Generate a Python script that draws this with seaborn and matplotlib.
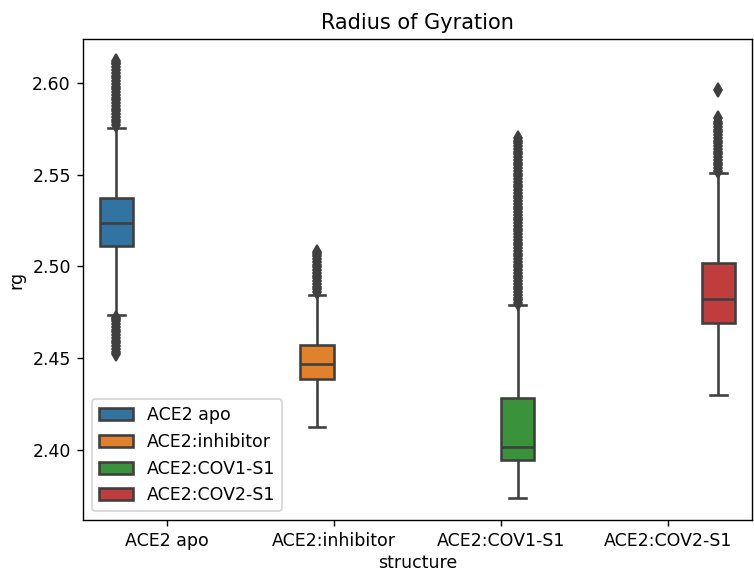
import pandas as pd
import numpy as np
import seaborn as sns
from matplotlib import pyplot as plt
from matplotlib.patches import Patch

structures = ['ACE2 apo', 'ACE2:inhibitor', 'ACE2:COV1-S1', 'ACE2:COV2-S1']

# box stats: lower whisker, q1, median, q3, upper whisker
low_whisker = [2.4734, 2.4125, 2.3737, 2.4300]
q1 = [2.5112, 2.4385, 2.3944, 2.4694]
median = [2.5235, 2.4467, 2.4013, 2.4821]
q3 = [2.5370, 2.4571, 2.4285, 2.5021]
high_whisker = [2.5754, 2.4846, 2.4790, 2.5508]

# outliers (diamonds)
apo_fliers = [2.452, 2.4535, 2.455, 2.4565, 2.458, 2.4595, 2.461, 2.4625, 2.464, 2.4655,
              2.467, 2.4685, 2.470, 2.4715, 2.472,
              2.577, 2.5785, 2.580, 2.5815, 2.583, 2.5845, 2.586, 2.5875, 2.589, 2.5905,
              2.592, 2.5935, 2.595, 2.5965, 2.598, 2.5995, 2.601, 2.6025, 2.604, 2.6055,
              2.607, 2.6085, 2.610, 2.611, 2.612]
inhibitor_fliers = [2.486, 2.4875, 2.489, 2.4905, 2.492, 2.4935, 2.495, 2.4965, 2.498,
                    2.4995, 2.501, 2.5025, 2.504, 2.5055, 2.507, 2.508]
cov1_fliers = [2.480, 2.4815, 2.483, 2.4845, 2.486, 2.4875, 2.489, 2.4905, 2.492, 2.4935,
               2.495, 2.4965, 2.498, 2.4995, 2.501, 2.5025, 2.504, 2.5055, 2.507, 2.5085,
               2.510, 2.5115, 2.513, 2.5145, 2.516, 2.5175, 2.519, 2.5205, 2.522, 2.5235,
               2.525, 2.5265, 2.528, 2.5295, 2.531, 2.5325, 2.534, 2.5355, 2.537, 2.5385,
               2.540, 2.5415, 2.543, 2.5445, 2.546, 2.5475, 2.549, 2.5505, 2.552, 2.5535,
               2.555, 2.5565, 2.558, 2.5595, 2.561, 2.5625, 2.564, 2.5655, 2.567, 2.5685,
               2.570]
cov2_fliers = [2.552, 2.5535, 2.555, 2.5565, 2.558, 2.5595, 2.561, 2.5625, 2.564, 2.5655,
               2.567, 2.5685, 2.570, 2.5715, 2.573, 2.5745, 2.576, 2.5775, 2.5785,
               2.5808, 2.5962]
fliers = [apo_fliers, inhibitor_fliers, cov1_fliers, cov2_fliers]

#rebuild a long table whose quartiles equal the read values
rows = []
n = 1000
for i, s in enumerate(structures):
    vals = [q1[i]] * n + [median[i]] * n + [q3[i]] * n
    vals += [low_whisker[i], high_whisker[i]] + fliers[i]
    rows.append(pd.DataFrame({'structure': s, 'rg': vals}))
rg = pd.concat(rows, ignore_index=True)

fig = plt.figure(figsize=(754 / 125, 573 / 125), dpi=125)
ax = fig.add_axes([0.110, 0.0925, 0.887, 0.8395])
sns.boxplot(x='structure', y='rg', hue='structure', data=rg, dodge=True, ax=ax,
            linewidth=1.5, linecolor='#3f3f3f', legend=False,
            flierprops={'marker': 'd', 'markerfacecolor': '#3f3f3f',
                        'markeredgecolor': '#3f3f3f', 'markersize': 6})

#legend with the box colours
colors = sns.color_palette(n_colors=4, desat=0.75)
handles = [Patch(facecolor=c, edgecolor='#3f3f3f', linewidth=1.5, label=s)
           for c, s in zip(colors, structures)]
ax.legend(handles=handles, loc='lower left')
ax.set_xlabel('structure', labelpad=2)
ax.set_title('Radius of Gyration')
plt.savefig('out.png', dpi=125)
